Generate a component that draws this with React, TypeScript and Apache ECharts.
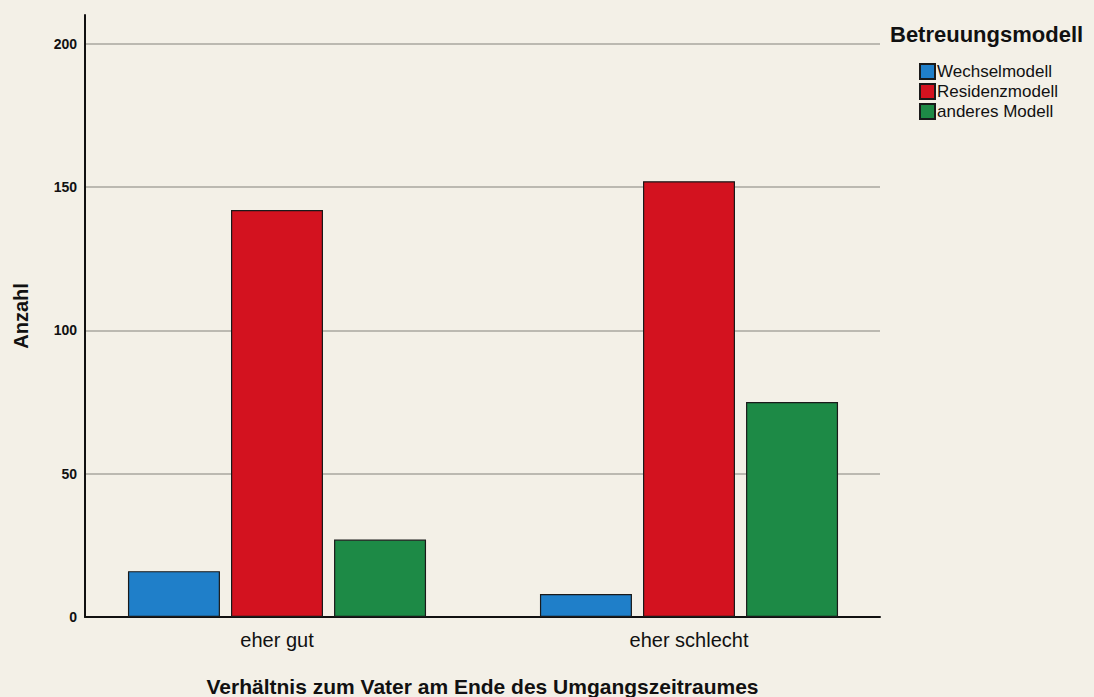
import React, { useEffect, useRef } from "react";
import * as echarts from "echarts";

const categories = ["eher gut", "eher schlecht"];
const seriesNames = ["Wechselmodell", "Residenzmodell", "anderes Modell"];
const wechselValues = [16, 8];
const residenzValues = [142, 152];
const anderesValues = [27, 75];
const colors = ["#1f7fc9", "#d3121f", "#1d8a46"];
const yTicks = [0, 50, 100, 150, 200];

export default function App() {
  const ref = useRef<HTMLDivElement>(null);
  useEffect(() => {
    if (!ref.current) return;
    const chart = echarts.init(ref.current, null, { renderer: "svg" });
    const font = "Liberation Sans, Arial, sans-serif";
    const data = [wechselValues, residenzValues, anderesValues];
    chart.setOption({
      animation: false,
      backgroundColor: "#f3f0e7",
      textStyle: { fontFamily: font },
      grid: [
        { left: 85, right: 214, top: 15, bottom: 80, outerBoundsMode: "none", containLabel: false },
        { left: 71, right: 199, top: 15, bottom: 80, outerBoundsMode: "none", containLabel: false },
      ],
      legend: {
        orient: "vertical",
        left: 914,
        top: 58,
        itemWidth: 15,
        itemHeight: 15,
        itemGap: 3,
        icon: "rect",
        textStyle: { fontSize: 17, color: "#111", fontFamily: font, padding: [0, 0, 0, -3] },
        data: seriesNames,
      },
      graphic: [
        {
          type: "text",
          left: 890,
          top: 23,
          style: { text: "Betreuungsmodell", font: "bold 22px Liberation Sans, Arial, sans-serif", fill: "#111" },
        },
      ],
      xAxis: [
        {
          type: "category",
          gridIndex: 0,
          data: categories,
          axisLine: { lineStyle: { color: "#111", width: 2 } },
          axisTick: { show: false },
          axisLabel: { show: false },
          name: "Verhältnis zum Vater am Ende des Umgangszeitraumes",
          nameLocation: "middle",
          nameGap: 59,
          nameTextStyle: { fontSize: 21, fontWeight: "bold", color: "#111" },
        },
        {
          type: "category",
          gridIndex: 1,
          data: categories,
          axisLine: { show: false },
          axisTick: { show: false },
          axisLabel: { fontSize: 20, color: "#111", margin: 13 },
        },
      ],
      yAxis: [
        {
          type: "value",
          gridIndex: 0,
          min: 0,
          max: 210,
          interval: 50,
          axisLine: { show: true, lineStyle: { color: "#111", width: 2 } },
          axisTick: { show: false },
          axisLabel: {
            fontSize: 14,
            fontWeight: "bold",
            color: "#111",
            margin: 8,
            showMaxLabel: false,
            formatter: (v: number) => (yTicks.includes(v) ? String(v) : ""),
          },
          splitLine: { show: true, showMaxLine: false, lineStyle: { color: "#a9a79f", width: 1.5 } },
          name: "Anzahl",
          nameLocation: "middle",
          nameGap: 54,
          nameRotate: 90,
          nameTextStyle: { fontSize: 20, fontWeight: "bold", color: "#111" },
        },
        {
          type: "value",
          gridIndex: 1,
          min: 0,
          max: 210,
          interval: 50,
          show: false,
        },
      ],
      series: seriesNames.map((name, i) => ({
        name,
        type: "bar",
        xAxisIndex: 1,
        yAxisIndex: 1,
        data: data[i],
        barWidth: 92,
        barGap: "12%",
        itemStyle: { color: colors[i], borderColor: "#1a1a1a", borderWidth: 1.2 },
      })),
    });
    return () => chart.dispose();
  }, []);
  return <div ref={ref} style={{ width: 1094, height: 697, position: "absolute", left: 0, top: 0 }} />;
}
